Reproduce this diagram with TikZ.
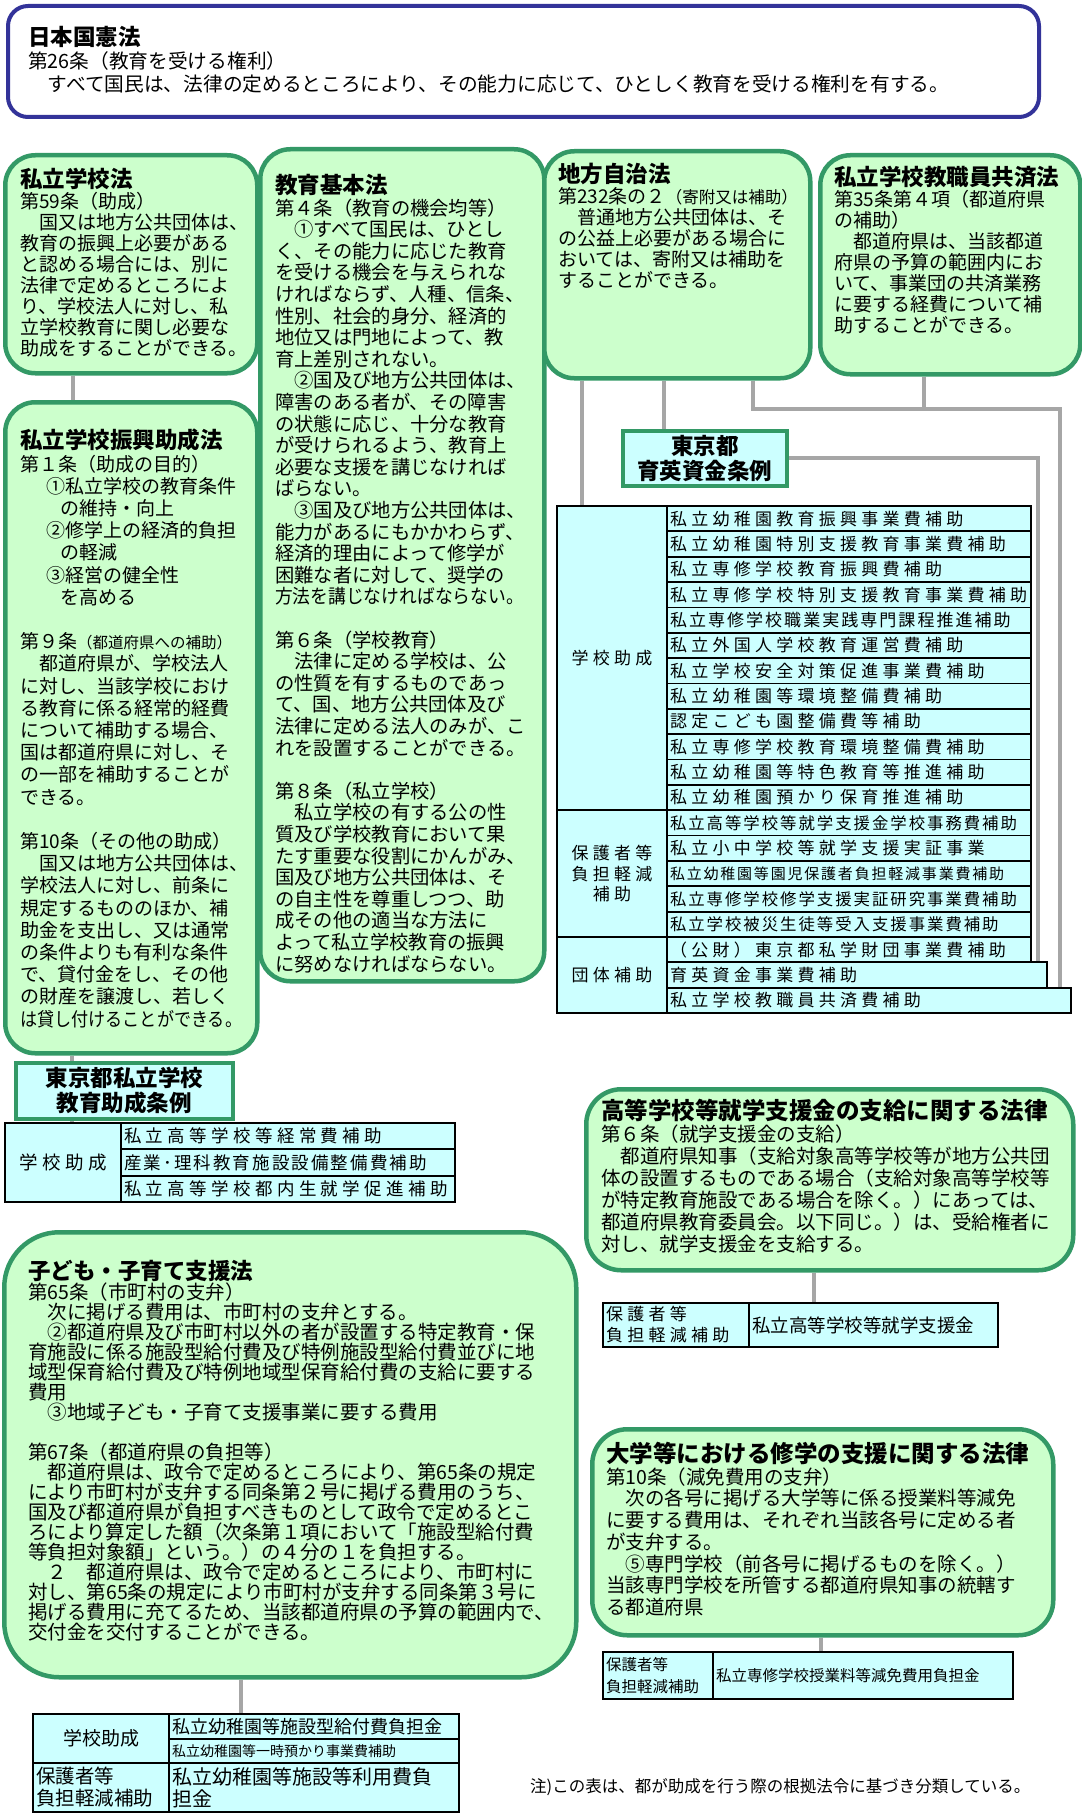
\documentclass[tikz,border=0pt]{standalone}
\usepackage{fontspec}
\usepackage{graphicx}
\setmainfont{Noto Sans CJK JP}
\newfontfamily\spfont[LetterSpace=25]{Noto Sans CJK JP}
\newfontfamily\spnfont[LetterSpace=12]{Noto Sans CJK JP}
\usetikzlibrary{backgrounds}

\definecolor{lawgreen}{HTML}{CCFFCC}
\definecolor{lawedge}{HTML}{339966}
\definecolor{cellcyan}{HTML}{CCFFFF}
\definecolor{kenpoedge}{HTML}{333399}
\definecolor{linkgray}{HTML}{A6A6A6}

\newcommand\setfs[2]{\fontsize{#1}{#2}\selectfont}
\newcommand\lawtitle{\bfseries\setfs{22.5}{26}}
\newcommand\lawtitleL{\bfseries\setfs{23.5}{27}}

\begin{document}
\begin{tikzpicture}[
  x=1pt, y=-1pt,
  lawbox/.style={draw=lawedge, line width=4.5pt, fill=lawgreen, rounded corners=30pt,
    anchor=north west, inner sep=0pt},
  lawtext/.style={anchor=north west, inner sep=0pt, align=left},
  ordbox/.style={draw=lawedge, line width=3.5pt, fill=cellcyan, anchor=north west,
    inner sep=0pt, align=center, font=\bfseries\setfs{22.5}{25}},
  cell/.style={draw=black, line width=1.8pt, fill=cellcyan, anchor=north west,
    inner xsep=3pt, inner ysep=0pt, outer sep=0pt, align=left},
  grp/.style={cell, align=center, inner xsep=0pt},
  mcell/.style={cell, text width=358pt, minimum height=25.35pt, font=\spfont\setfs{17}{20}},
  mgrp/.style={grp, text width=110pt, font=\spfont\setfs{17}{20.5}},
  link/.style={draw=linkgray, line width=4pt}
  ]
\useasboundingbox (0,0) rectangle (1081,1814);

% Constitution
\node[draw=kenpoedge, line width=4pt, fill=white, rounded corners=20pt, anchor=north west,
  minimum width=1031pt, minimum height=111pt, inner sep=0pt] (kenpo) at (6,4) {};
\node[lawtext, font=\setfs{19.7}{23}] (kenpo-t) at (28,26)
  {{\lawtitle 日本国憲法}\\
   第26条（教育を受ける権利）\\
   　すべて国民は、法律の定めるところにより、その能力に応じて、ひとしく教育を受ける権利を有する。};

% Laws, top row
\node[lawbox, minimum width=252pt, minimum height=218pt] (shigaku) at (3,153) {};
\node[lawtext, font=\setfs{19}{21}] (shigaku-t) at (20,168)
  {{\lawtitle 私立学校法}\\
   第59条（助成）\\
   　国又は地方公共団体は、\\
   教育の振興上必要がある\\
   と認める場合には、別に\\
   法律で定めるところによ\\
   り、学校法人に対し、私\\
   立学校教育に関し必要な\\
   助成をすることができる。};

\node[lawbox, minimum width=284pt, minimum height=832pt] (kihon) at (258,147) {};
\node[lawtext, font=\setfs{19.3}{21.6}] (kihon-t) at (275,174)
  {{\lawtitle 教育基本法}\\
   第４条（教育の機会均等）\\
   　①すべて国民は、ひとし\\
   く、その能力に応じた教育\\
   を受ける機会を与えられな\\
   ければならず、人種、信条、\\
   性別、社会的身分、経済的\\
   地位又は門地によって、教\\
   育上差別されない。\\
   　②国及び地方公共団体は、\\
   障害のある者が、その障害\\
   の状態に応じ、十分な教育\\
   が受けられるよう、教育上\\
   必要な支援を講じなければ\\
   ばらない。\\
   　③国及び地方公共団体は、\\
   能力があるにもかかわらず、\\
   経済的理由によって修学が\\
   困難な者に対して、奨学の\\
   \scalebox{0.92}[1]{方法を講じなければならない。}\\[21.6pt]
   第６条（学校教育）\\
   　法律に定める学校は、公\\
   の性質を有するものであっ\\
   て、国、地方公共団体及び\\
   法律に定める法人のみが、こ\\
   れを設置することができる。\\[21.6pt]
   第８条（私立学校）\\
   　私立学校の有する公の性\\
   質及び学校教育において果\\
   たす重要な役割にかんがみ、\\
   国及び地方公共団体は、そ\\
   の自主性を尊重しつつ、助\\
   成その他の適当な方法に\\
   よって私立学校教育の振興\\
   に努めなければならない。};

\node[lawbox, minimum width=266pt, minimum height=227pt] (chiho) at (542,149) {};
\node[lawtext, font=\setfs{19}{21}] (chiho-t) at (558,163)
  {{\lawtitle 地方自治法}\\
   第232条の２{\setfs{16.5}{21}（寄附又は補助）}\\
   　普通地方公共団体は、そ\\
   の公益上必要がある場合に\\
   おいては、寄附又は補助を\\
   することができる。};

\node[lawbox, minimum width=260pt, minimum height=219pt] (kyosai) at (818,153) {};
\node[lawtext, font=\setfs{19}{21}] (kyosai-t) at (834,166)
  {{\lawtitle 私立学校教職員共済法}\\
   第35条第４項（都道府県\\
   の補助）\\
   　都道府県は、当該都道\\
   府県の予算の範囲内にお\\
   いて、事業団の共済業務\\
   に要する経費について補\\
   助することができる。};

% Promotion subsidy law
\node[lawbox, minimum width=252pt, minimum height=651pt] (shinko) at (3,400) {};
\node[lawtext, font=\setfs{19}{22.2}] (shinko-t) at (20,429)
  {{\lawtitle 私立学校振興助成法}\\
   第１条（助成の目的）\\
   \hspace{1.4em}①私立学校の教育条件\\
   \hspace{2.1em}の維持・向上\\
   \hspace{1.4em}②修学上の経済的負担\\
   \hspace{2.1em}の軽減\\
   \hspace{1.4em}③経営の健全性\\
   \hspace{2.1em}を高める\\[22.2pt]
   第９条{\setfs{15.5}{22.2}（都道府県への補助）}\\
   　都道府県が、学校法人\\
   に対し、当該学校におけ\\
   る教育に係る経常的経費\\
   について補助する場合、\\
   国は都道府県に対し、そ\\
   の一部を補助することが\\
   できる。\\[22.2pt]
   第10条（その他の助成）\\
   　国又は地方公共団体は、\\
   学校法人に対し、前条に\\
   規定するもののほか、補\\
   助金を支出し、又は通常\\
   の条件よりも有利な条件\\
   で、貸付金をし、その他\\
   の財産を譲渡し、若しく\\
   \scalebox{0.9}[1]{は貸し付けることができる。}};

% Tokyo ordinance on private school education subsidy
\node[ordbox, minimum width=217pt, minimum height=56pt] (jorei) at (14,1061) {東京都私立学校\\教育助成条例};
\node[grp, text width=116pt, minimum height=79pt, font=\spfont\setfs{18.5}{20}] (tg) at (5,1123) {学校助成};
\node[cell, text width=328pt, minimum height=26.33pt, font=\spfont\setfs{17.5}{20}] (tr1) at (tg.north east) {私立高等学校等経常費補助};
\node[cell, text width=328pt, minimum height=26.33pt, font=\spnfont\setfs{17.5}{20}] (tr2) at (tr1.south west) {産業･理科教育施設設備整備費補助};
\node[cell, text width=328pt, minimum height=26.33pt, font=\spfont\setfs{17.5}{20}] (tr3) at (tr2.south west) {私立高等学校都内生就学促進補助};

% Tokyo scholarship ordinance and main table
\node[ordbox, minimum width=164pt, minimum height=55pt] (ikuei) at (621,429) {東京都\\育英資金条例};

\node[mgrp, minimum height=304.2pt] (g1) at (557,506) {学校助成};
\node[mgrp, minimum height=126.75pt] (g2) at (g1.south west) {保護者等\\負担軽減\\補助};
\node[mgrp, minimum height=76.05pt] (g3) at (g2.south west) {団体補助};

\node[mcell] (r1) at (g1.north east) {私立幼稚園教育振興事業費補助};
\node[mcell] (r2) at (r1.south west) {私立幼稚園特別支援教育事業費補助};
\node[mcell] (r3) at (r2.south west) {私立専修学校教育振興費補助};
\node[mcell] (r4) at (r3.south west) {私立専修学校特別支援教育事業費補助};
\node[mcell, font=\spnfont\setfs{17}{20}] (r5) at (r4.south west) {私立専修学校職業実践専門課程推進補助};
\node[mcell] (r6) at (r5.south west) {私立外国人学校教育運営費補助};
\node[mcell] (r7) at (r6.south west) {私立学校安全対策促進事業費補助};
\node[mcell] (r8) at (r7.south west) {私立幼稚園等環境整備費補助};
\node[mcell] (r9) at (r8.south west) {認定こども園整備費等補助};
\node[mcell] (r10) at (r9.south west) {私立専修学校教育環境整備費補助};
\node[mcell] (r11) at (r10.south west) {私立幼稚園等特色教育等推進補助};
\node[mcell] (r12) at (r11.south west) {私立幼稚園預かり保育推進補助};
\node[mcell, font=\spnfont\setfs{16.4}{20}] (r13) at (r12.south west) {私立高等学校等就学支援金学校事務費補助};
\node[mcell] (r14) at (r13.south west) {私立小中学校等就学支援実証事業};
\node[mcell, font=\spnfont\setfs{15}{18}] (r15) at (r14.south west) {私立幼稚園等園児保護者負担軽減事業費補助};
\node[mcell, font=\spnfont\setfs{16.4}{20}] (r16) at (r15.south west) {私立専修学校修学支援実証研究事業費補助};
\node[mcell, font=\spnfont\setfs{16.4}{20}] (r17) at (r16.south west) {私立学校被災生徒等受入支援事業費補助};
\node[mcell] (r18) at (r17.south west) {（公財）東京都私学財団事業費補助};
\node[mcell, text width=374pt] (r19) at (r18.south west) {育英資金事業費補助};
\node[mcell, text width=398pt] (r20) at (r19.south west) {私立学校教職員共済費補助};

% High school enrollment support law
\node[lawbox, rounded corners=35pt, minimum width=487pt, minimum height=181pt] (koko) at (584,1087) {};
\node[lawtext, font=\setfs{19.5}{22}] (koko-t) at (601,1099)
  {{\lawtitleL 高等学校等就学支援金の支給に関する法律}\\
   第６条（就学支援金の支給）\\
   　都道府県知事（支給対象高等学校等が地方公共団\\
   体の設置するものである場合（支給対象高等学校等\\
   が特定教育施設である場合を除く。）にあっては、\\
   都道府県教育委員会。以下同じ。）は、受給権者に\\
   対し、就学支援金を支給する。};
\node[cell, text width=140pt, minimum height=44pt, font=\spfont\setfs{17}{21}] (t3a) at (603,1303) {保護者等\\負担軽減補助};
\node[cell, text width=243pt, minimum height=44pt, font=\setfs{18.5}{21}] (t3b) at (t3a.north east) {私立高等学校等就学支援金};

% Child and child-rearing support law
\node[lawbox, rounded corners=55pt, minimum width=572pt, minimum height=445pt] (kodomo) at (2,1230) {};
\node[lawtext, font=\setfs{19.5}{20}] (kodomo-t) at (28,1260)
  {{\lawtitle 子ども・子育て支援法}\\
   第65条（市町村の支弁）\\
   　次に掲げる費用は、市町村の支弁とする。\\
   　②都道府県及び市町村以外の者が設置する特定教育・保\\
   育施設に係る施設型給付費及び特例施設型給付費並びに地\\
   域型保育給付費及び特例地域型保育給付費の支給に要する\\
   費用\\
   　③地域子ども・子育て支援事業に要する費用\\[20pt]
   第67条（都道府県の負担等）\\
   　都道府県は、政令で定めるところにより、第65条の規定\\
   により市町村が支弁する同条第２号に掲げる費用のうち、\\
   国及び都道府県が負担すべきものとして政令で定めるとこ\\
   ろにより算定した額（次条第１項において「施設型給付費\\
   等負担対象額」という。）の４分の１を負担する。\\
   　２　都道府県は、政令で定めるところにより、市町村に\\
   対し、第65条の規定により市町村が支弁する同条第３号に\\
   掲げる費用に充てるため、当該都道府県の予算の範囲内で、\\
   交付金を交付することができる。};
\node[grp, text width=136pt, minimum height=49pt, font=\setfs{19}{22}] (k1) at (33,1714) {学校助成};
\node[cell, text width=284pt, minimum height=25pt, font=\setfs{18}{20}] (k1a) at (k1.north east) {私立幼稚園等施設型給付費負担金};
\node[cell, text width=284pt, minimum height=24pt, font=\setfs{14}{16}] (k1b) at (k1a.south west) {私立幼稚園等一時預かり事業費補助};
\node[cell, text width=130pt, minimum height=49pt, font=\setfs{19.5}{22}] (k2) at (k1.south west) {保護者等\\負担軽減補助};
\node[cell, text width=284pt, minimum height=49pt, font=\setfs{20}{22}] (k2a) at (k2.north east) {私立幼稚園等施設等利用費負\\担金};

% University study support law
\node[lawbox, rounded corners=35pt, minimum width=461pt, minimum height=206pt] (daigaku) at (590,1427) {};
\node[lawtext, font=\setfs{19.5}{21.7}] (daigaku-t) at (606,1442)
  {{\lawtitleL 大学等における修学の支援に関する法律}\\
   第10条（減免費用の支弁）\\
   　次の各号に掲げる大学等に係る授業料等減免\\
   に要する費用は、それぞれ当該各号に定める者\\
   が支弁する。\\
   　⑤専門学校（前各号に掲げるものを除く。）\\
   当該専門学校を所管する都道府県知事の統轄す\\
   る都道府県};
\node[cell, text width=104pt, minimum height=47pt, font=\setfs{15.5}{22}] (t4a) at (603,1652) {保護者等\\負担軽減補助};
\node[cell, text width=294pt, minimum height=47pt, font=\setfs{15.5}{18}] (t4b) at (t4a.north east) {私立専修学校授業料等減免費用負担金};

% Note
\node[anchor=west, inner sep=0pt, font=\setfs{16.5}{18}] (note) at (530,1787) {注)この表は、都が助成を行う際の根拠法令に基づき分類している。};

% Connectors
\coordinate (turn) at (1060,409);
\begin{scope}[on background layer]
\draw[link] ([xshift=70pt]shigaku.south west) -- ([xshift=70pt]shinko.north west);
\draw[link] ([xshift=69pt]shinko.south west) -- ([xshift=58pt]jorei.north west);
\draw[link] ([xshift=58pt]jorei.south west) -- ([xshift=67pt]tg.north west);
\draw[link] ([xshift=40pt]chiho.south west) -- ([xshift=25pt]g1.north west);
\draw[link] ([xshift=122pt]chiho.south west) -- ([xshift=43pt]ikuei.north west);
\draw[link] ([xshift=211pt]chiho.south west) |- (turn) -- ([xshift=393pt]r20.north west);
\draw[link] ([xshift=106pt]kyosai.south west) -- ([xshift=106pt]kyosai.south west |- turn);
\draw[link] (ikuei.east) -| ([xshift=371pt]r19.north west);
\draw[link] ([xshift=230pt]koko.south west) -- ([xshift=65pt]t3b.north west);
\draw[link] ([xshift=231pt]daigaku.south west) -- ([xshift=108pt]t4b.north west);
\draw[link] ([xshift=239pt]kodomo.south west) -- ([xshift=72pt]k1a.north west);
\end{scope}

\end{tikzpicture}
\end{document}
